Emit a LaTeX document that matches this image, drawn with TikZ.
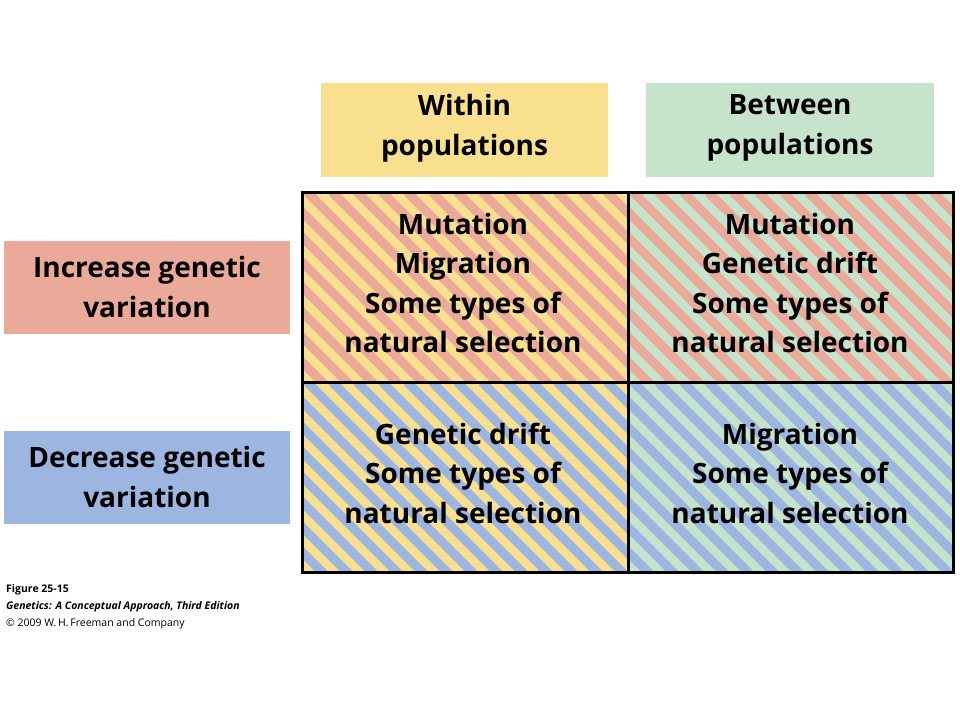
\documentclass[tikz,border=0pt]{standalone}
\usepackage{fontspec}
\setmainfont{Open Sans}
\definecolor{popyellow}{HTML}{F9E08F}
\definecolor{popgreen}{HTML}{C6E4CC}
\definecolor{incred}{HTML}{EBA999}
\definecolor{decblue}{HTML}{9DB5E1}
\newcommand{\stripecell}[6]{% x1,y1,x2,y2,base,stripe
  \begin{scope}
    \clip (#1,#2) rectangle (#3,#4);
    \fill[#5] (#1,#2) rectangle (#3,#4);
    \foreach \s in {-420,-395,...,360}
      \draw[#6, line width=9pt] (#1+\s,#2) -- ++(230,230);
  \end{scope}}
\begin{document}
\begin{tikzpicture}[x=1pt,y=-1pt,
    headbox/.style={font=\bfseries\fontsize{28}{40}\selectfont, align=center},
    celltext/.style={font=\bfseries\fontsize{28}{39.5}\selectfont, align=center},
    capline/.style={anchor=base west, font=\fontsize{10.5}{12}\selectfont, inner sep=0pt}]
  \useasboundingbox (0,0) rectangle (960,720);
  % headers
  \fill[popyellow] (321,83) rectangle (608,177);
  \fill[popgreen] (646,83) rectangle (934,177);
  \fill[incred] (4,241) rectangle (290,334);
  \fill[decblue] (4,431) rectangle (290,524);
  \node[headbox] (within) at (464.5,128) {Within\\populations};
  \node[headbox] (between) at (790,128) {Between\\populations};
  \node[headbox] (increase) at (147,287) {Increase genetic\\variation};
  \node[headbox] (decrease) at (147,477) {Decrease genetic\\variation};
  % striped cells
  \stripecell{302}{192}{628}{382}{popyellow}{incred}
  \stripecell{628}{192}{953}{382}{popgreen}{incred}
  \stripecell{302}{382}{628}{572}{popyellow}{decblue}
  \stripecell{628}{382}{953}{572}{popgreen}{decblue}
  \draw[line width=3pt] (302,192) rectangle (953,572);
  \draw[line width=3pt] (628,192) -- (628,572);
  \draw[line width=3pt] (302,382) -- (953,382);
  \node[celltext] (winc) at (463,283) {Mutation\\Migration\\Some types of\\natural selection};
  \node[celltext] (binc) at (790,283) {Mutation\\Genetic drift\\Some types of\\natural selection};
  \node[celltext] (wdec) at (463,473) {Genetic drift\\Some types of\\natural selection};
  \node[celltext] (bdec) at (790,473) {Migration\\Some types of\\natural selection};
  % caption
  \node[capline, font=\bfseries\fontsize{10.5}{12}\selectfont] (fig) at (6,592) {Figure 25-15};
  \node[capline, font=\bfseries\itshape\fontsize{10.5}{12}\selectfont] (book) at (6,609) {Genetics: A Conceptual Approach, Third Edition};
  \node[capline] (copy) at (6,626) {© 2009 W.\,H.\,Freeman and Company};
\end{tikzpicture}
\end{document}
